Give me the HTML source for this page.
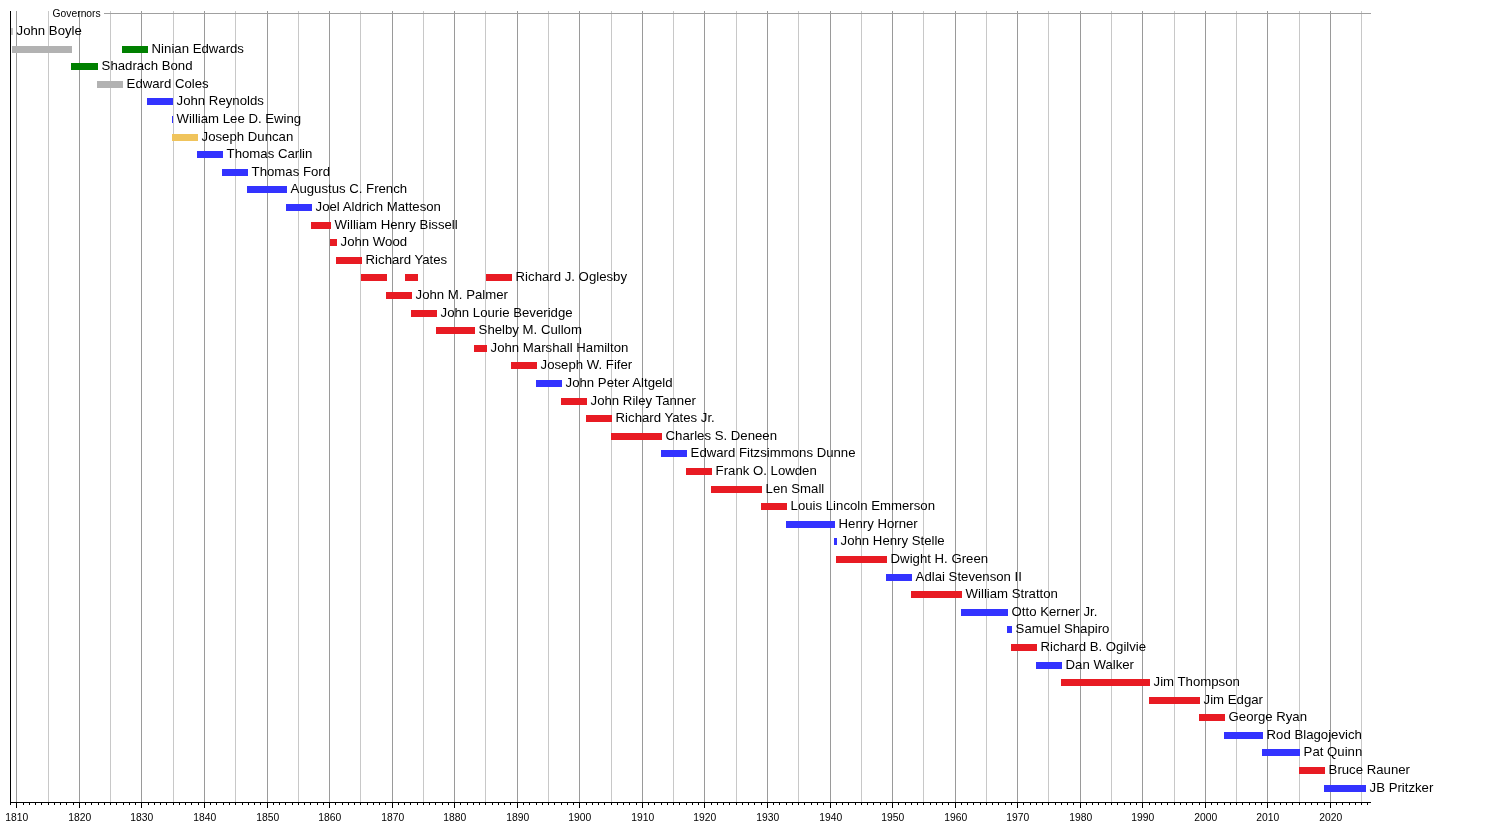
<!DOCTYPE html><html><head><meta charset="utf-8"><title>Governors of Illinois timeline</title>
<style>html,body{margin:0;padding:0;background:#fff;width:1500px;height:822px;overflow:hidden}svg{display:block;will-change:transform}text{font-family:"Liberation Sans",Arial,sans-serif;fill:#000}</style></head><body>
<div id="wrap">
<svg width="1500" height="822" viewBox="0 0 1500 822">
<rect x="0" y="0" width="1500" height="822" fill="#fff"/>
<rect x="16" y="11" width="1" height="791" fill="#9a9a9a"/><rect x="48" y="11" width="1" height="791" fill="#c8c8c8"/><rect x="79" y="11" width="1" height="791" fill="#9a9a9a"/><rect x="110" y="11" width="1" height="791" fill="#c8c8c8"/><rect x="141" y="11" width="1" height="791" fill="#9a9a9a"/><rect x="173" y="11" width="1" height="791" fill="#c8c8c8"/><rect x="204" y="11" width="1" height="791" fill="#9a9a9a"/><rect x="235" y="11" width="1" height="791" fill="#c8c8c8"/><rect x="267" y="11" width="1" height="791" fill="#9a9a9a"/><rect x="298" y="11" width="1" height="791" fill="#c8c8c8"/><rect x="329" y="11" width="1" height="791" fill="#9a9a9a"/><rect x="360" y="11" width="1" height="791" fill="#c8c8c8"/><rect x="392" y="11" width="1" height="791" fill="#9a9a9a"/><rect x="423" y="11" width="1" height="791" fill="#c8c8c8"/><rect x="454" y="11" width="1" height="791" fill="#9a9a9a"/><rect x="485" y="11" width="1" height="791" fill="#c8c8c8"/><rect x="517" y="11" width="1" height="791" fill="#9a9a9a"/><rect x="548" y="11" width="1" height="791" fill="#c8c8c8"/><rect x="579" y="11" width="1" height="791" fill="#9a9a9a"/><rect x="611" y="11" width="1" height="791" fill="#c8c8c8"/><rect x="642" y="11" width="1" height="791" fill="#9a9a9a"/><rect x="673" y="11" width="1" height="791" fill="#c8c8c8"/><rect x="704" y="11" width="1" height="791" fill="#9a9a9a"/><rect x="736" y="11" width="1" height="791" fill="#c8c8c8"/><rect x="767" y="11" width="1" height="791" fill="#9a9a9a"/><rect x="798" y="11" width="1" height="791" fill="#c8c8c8"/><rect x="830" y="11" width="1" height="791" fill="#9a9a9a"/><rect x="861" y="11" width="1" height="791" fill="#c8c8c8"/><rect x="892" y="11" width="1" height="791" fill="#9a9a9a"/><rect x="923" y="11" width="1" height="791" fill="#c8c8c8"/><rect x="955" y="11" width="1" height="791" fill="#9a9a9a"/><rect x="986" y="11" width="1" height="791" fill="#c8c8c8"/><rect x="1017" y="11" width="1" height="791" fill="#9a9a9a"/><rect x="1048" y="11" width="1" height="791" fill="#c8c8c8"/><rect x="1080" y="11" width="1" height="791" fill="#9a9a9a"/><rect x="1111" y="11" width="1" height="791" fill="#c8c8c8"/><rect x="1142" y="11" width="1" height="791" fill="#9a9a9a"/><rect x="1174" y="11" width="1" height="791" fill="#c8c8c8"/><rect x="1205" y="11" width="1" height="791" fill="#9a9a9a"/><rect x="1236" y="11" width="1" height="791" fill="#c8c8c8"/><rect x="1267" y="11" width="1" height="791" fill="#9a9a9a"/><rect x="1299" y="11" width="1" height="791" fill="#c8c8c8"/><rect x="1330" y="11" width="1" height="791" fill="#9a9a9a"/><rect x="1361" y="11" width="1" height="791" fill="#c8c8c8"/>
<rect x="104" y="13" width="1267" height="1" fill="#a0a0a0"/>
<text x="52.6" y="16.9" font-size="10.3">Governors</text>
<rect x="11.00" y="28.00" width="2.00" height="7.00" fill="#C6C6C6"/><rect x="12.00" y="46.00" width="60.00" height="7.00" fill="#B2B2B2"/><rect x="122.00" y="46.00" width="26.00" height="7.00" fill="#008000"/><rect x="71.00" y="63.00" width="27.00" height="7.00" fill="#008000"/><rect x="97.00" y="81.00" width="26.00" height="7.00" fill="#B2B2B2"/><rect x="147.00" y="98.00" width="26.00" height="7.00" fill="#3333FF"/><rect x="172.00" y="116.00" width="1.00" height="7.00" fill="#3333FF"/><rect x="172.00" y="134.00" width="26.00" height="7.00" fill="#F0C45C"/><rect x="197.00" y="151.00" width="26.00" height="7.00" fill="#3333FF"/><rect x="222.00" y="169.00" width="26.00" height="7.00" fill="#3333FF"/><rect x="247.00" y="186.00" width="40.00" height="7.00" fill="#3333FF"/><rect x="286.00" y="204.00" width="26.00" height="7.00" fill="#3333FF"/><rect x="311.00" y="222.00" width="20.00" height="7.00" fill="#E81B23"/><rect x="330.00" y="239.00" width="7.00" height="7.00" fill="#E81B23"/><rect x="336.00" y="257.00" width="26.00" height="7.00" fill="#E81B23"/><rect x="361.00" y="274.00" width="26.00" height="7.00" fill="#E81B23"/><rect x="405.00" y="274.00" width="13.00" height="7.00" fill="#E81B23"/><rect x="486.00" y="274.00" width="26.00" height="7.00" fill="#E81B23"/><rect x="386.00" y="292.00" width="26.00" height="7.00" fill="#E81B23"/><rect x="411.00" y="310.00" width="26.00" height="7.00" fill="#E81B23"/><rect x="436.00" y="327.00" width="39.00" height="7.00" fill="#E81B23"/><rect x="474.00" y="345.00" width="13.00" height="7.00" fill="#E81B23"/><rect x="511.00" y="362.00" width="26.00" height="7.00" fill="#E81B23"/><rect x="536.00" y="380.00" width="26.00" height="7.00" fill="#3333FF"/><rect x="561.00" y="398.00" width="26.00" height="7.00" fill="#E81B23"/><rect x="586.00" y="415.00" width="26.00" height="7.00" fill="#E81B23"/><rect x="611.00" y="433.00" width="51.00" height="7.00" fill="#E81B23"/><rect x="661.00" y="450.00" width="26.00" height="7.00" fill="#3333FF"/><rect x="686.00" y="468.00" width="26.00" height="7.00" fill="#E81B23"/><rect x="711.00" y="486.00" width="51.00" height="7.00" fill="#E81B23"/><rect x="761.00" y="503.00" width="26.00" height="7.00" fill="#E81B23"/><rect x="786.00" y="521.00" width="49.00" height="7.00" fill="#3333FF"/><rect x="834.00" y="538.00" width="3.00" height="7.00" fill="#3333FF"/><rect x="836.00" y="556.00" width="51.00" height="7.00" fill="#E81B23"/><rect x="886.00" y="574.00" width="26.00" height="7.00" fill="#3333FF"/><rect x="911.00" y="591.00" width="51.00" height="7.00" fill="#E81B23"/><rect x="961.00" y="609.00" width="47.00" height="7.00" fill="#3333FF"/><rect x="1007.00" y="626.00" width="5.00" height="7.00" fill="#3333FF"/><rect x="1011.00" y="644.00" width="26.00" height="7.00" fill="#E81B23"/><rect x="1036.00" y="662.00" width="26.00" height="7.00" fill="#3333FF"/><rect x="1061.00" y="679.00" width="89.00" height="7.00" fill="#E81B23"/><rect x="1149.00" y="697.00" width="51.00" height="7.00" fill="#E81B23"/><rect x="1199.00" y="714.00" width="26.00" height="7.00" fill="#E81B23"/><rect x="1224.00" y="732.00" width="39.00" height="7.00" fill="#3333FF"/><rect x="1262.00" y="749.00" width="38.00" height="7.00" fill="#3333FF"/><rect x="1299.00" y="767.00" width="26.00" height="7.00" fill="#E81B23"/><rect x="1324.00" y="785.00" width="42.00" height="7.00" fill="#3333FF"/>
<text x="16.60" y="35.00" font-size="13.2">John Boyle</text><text x="151.60" y="53.00" font-size="13.2">Ninian Edwards</text><text x="101.60" y="70.00" font-size="13.2">Shadrach Bond</text><text x="126.60" y="88.00" font-size="13.2">Edward Coles</text><text x="176.60" y="105.00" font-size="13.2">John Reynolds</text><text x="176.60" y="123.00" font-size="13.2">William Lee D. Ewing</text><text x="201.60" y="141.00" font-size="13.2">Joseph Duncan</text><text x="226.60" y="158.00" font-size="13.2">Thomas Carlin</text><text x="251.60" y="176.00" font-size="13.2">Thomas Ford</text><text x="290.60" y="193.00" font-size="13.2">Augustus C. French</text><text x="315.60" y="211.00" font-size="13.2">Joel Aldrich Matteson</text><text x="334.60" y="229.00" font-size="13.2">William Henry Bissell</text><text x="340.60" y="246.00" font-size="13.2">John Wood</text><text x="365.60" y="264.00" font-size="13.2">Richard Yates</text><text x="515.60" y="281.00" font-size="13.2">Richard J. Oglesby</text><text x="415.60" y="299.00" font-size="13.2">John M. Palmer</text><text x="440.60" y="317.00" font-size="13.2">John Lourie Beveridge</text><text x="478.60" y="334.00" font-size="13.2">Shelby M. Cullom</text><text x="490.60" y="352.00" font-size="13.2">John Marshall Hamilton</text><text x="540.60" y="369.00" font-size="13.2">Joseph W. Fifer</text><text x="565.60" y="387.00" font-size="13.2">John Peter Altgeld</text><text x="590.60" y="405.00" font-size="13.2">John Riley Tanner</text><text x="615.60" y="422.00" font-size="13.2">Richard Yates Jr.</text><text x="665.60" y="440.00" font-size="13.2">Charles S. Deneen</text><text x="690.60" y="457.00" font-size="13.2">Edward Fitzsimmons Dunne</text><text x="715.60" y="475.00" font-size="13.2">Frank O. Lowden</text><text x="765.60" y="493.00" font-size="13.2">Len Small</text><text x="790.60" y="510.00" font-size="13.2">Louis Lincoln Emmerson</text><text x="838.60" y="528.00" font-size="13.2">Henry Horner</text><text x="840.60" y="545.00" font-size="13.2">John Henry Stelle</text><text x="890.60" y="563.00" font-size="13.2">Dwight H. Green</text><text x="915.60" y="581.00" font-size="13.2">Adlai Stevenson II</text><text x="965.60" y="598.00" font-size="13.2">William Stratton</text><text x="1011.60" y="616.00" font-size="13.2">Otto Kerner Jr.</text><text x="1015.60" y="633.00" font-size="13.2">Samuel Shapiro</text><text x="1040.60" y="651.00" font-size="13.2">Richard B. Ogilvie</text><text x="1065.60" y="669.00" font-size="13.2">Dan Walker</text><text x="1153.60" y="686.00" font-size="13.2">Jim Thompson</text><text x="1203.60" y="704.00" font-size="13.2">Jim Edgar</text><text x="1228.60" y="721.00" font-size="13.2">George Ryan</text><text x="1266.60" y="739.00" font-size="13.2">Rod Blagojevich</text><text x="1303.60" y="756.00" font-size="13.2">Pat Quinn</text><text x="1328.60" y="774.00" font-size="13.2">Bruce Rauner</text><text x="1369.60" y="792.00" font-size="13.2">JB Pritzker</text>
<rect x="10" y="11" width="1" height="792" fill="#000"/>
<rect x="10" y="802" width="1361" height="1" fill="#000"/>
<rect x="10" y="802" width="1" height="3" fill="#000"/><rect x="16" y="802" width="1" height="6" fill="#000"/><rect x="23" y="802" width="1" height="3" fill="#000"/><rect x="29" y="802" width="1" height="3" fill="#000"/><rect x="35" y="802" width="1" height="3" fill="#000"/><rect x="41" y="802" width="1" height="3" fill="#000"/><rect x="48" y="802" width="1" height="3" fill="#000"/><rect x="54" y="802" width="1" height="3" fill="#000"/><rect x="60" y="802" width="1" height="3" fill="#000"/><rect x="66" y="802" width="1" height="3" fill="#000"/><rect x="73" y="802" width="1" height="3" fill="#000"/><rect x="79" y="802" width="1" height="6" fill="#000"/><rect x="85" y="802" width="1" height="3" fill="#000"/><rect x="91" y="802" width="1" height="3" fill="#000"/><rect x="98" y="802" width="1" height="3" fill="#000"/><rect x="104" y="802" width="1" height="3" fill="#000"/><rect x="110" y="802" width="1" height="3" fill="#000"/><rect x="116" y="802" width="1" height="3" fill="#000"/><rect x="123" y="802" width="1" height="3" fill="#000"/><rect x="129" y="802" width="1" height="3" fill="#000"/><rect x="135" y="802" width="1" height="3" fill="#000"/><rect x="141" y="802" width="1" height="6" fill="#000"/><rect x="148" y="802" width="1" height="3" fill="#000"/><rect x="154" y="802" width="1" height="3" fill="#000"/><rect x="160" y="802" width="1" height="3" fill="#000"/><rect x="166" y="802" width="1" height="3" fill="#000"/><rect x="173" y="802" width="1" height="3" fill="#000"/><rect x="179" y="802" width="1" height="3" fill="#000"/><rect x="185" y="802" width="1" height="3" fill="#000"/><rect x="191" y="802" width="1" height="3" fill="#000"/><rect x="198" y="802" width="1" height="3" fill="#000"/><rect x="204" y="802" width="1" height="6" fill="#000"/><rect x="210" y="802" width="1" height="3" fill="#000"/><rect x="216" y="802" width="1" height="3" fill="#000"/><rect x="223" y="802" width="1" height="3" fill="#000"/><rect x="229" y="802" width="1" height="3" fill="#000"/><rect x="235" y="802" width="1" height="3" fill="#000"/><rect x="242" y="802" width="1" height="3" fill="#000"/><rect x="248" y="802" width="1" height="3" fill="#000"/><rect x="254" y="802" width="1" height="3" fill="#000"/><rect x="260" y="802" width="1" height="3" fill="#000"/><rect x="267" y="802" width="1" height="6" fill="#000"/><rect x="273" y="802" width="1" height="3" fill="#000"/><rect x="279" y="802" width="1" height="3" fill="#000"/><rect x="285" y="802" width="1" height="3" fill="#000"/><rect x="292" y="802" width="1" height="3" fill="#000"/><rect x="298" y="802" width="1" height="3" fill="#000"/><rect x="304" y="802" width="1" height="3" fill="#000"/><rect x="310" y="802" width="1" height="3" fill="#000"/><rect x="317" y="802" width="1" height="3" fill="#000"/><rect x="323" y="802" width="1" height="3" fill="#000"/><rect x="329" y="802" width="1" height="6" fill="#000"/><rect x="335" y="802" width="1" height="3" fill="#000"/><rect x="342" y="802" width="1" height="3" fill="#000"/><rect x="348" y="802" width="1" height="3" fill="#000"/><rect x="354" y="802" width="1" height="3" fill="#000"/><rect x="360" y="802" width="1" height="3" fill="#000"/><rect x="367" y="802" width="1" height="3" fill="#000"/><rect x="373" y="802" width="1" height="3" fill="#000"/><rect x="379" y="802" width="1" height="3" fill="#000"/><rect x="385" y="802" width="1" height="3" fill="#000"/><rect x="392" y="802" width="1" height="6" fill="#000"/><rect x="398" y="802" width="1" height="3" fill="#000"/><rect x="404" y="802" width="1" height="3" fill="#000"/><rect x="410" y="802" width="1" height="3" fill="#000"/><rect x="417" y="802" width="1" height="3" fill="#000"/><rect x="423" y="802" width="1" height="3" fill="#000"/><rect x="429" y="802" width="1" height="3" fill="#000"/><rect x="435" y="802" width="1" height="3" fill="#000"/><rect x="442" y="802" width="1" height="3" fill="#000"/><rect x="448" y="802" width="1" height="3" fill="#000"/><rect x="454" y="802" width="1" height="6" fill="#000"/><rect x="460" y="802" width="1" height="3" fill="#000"/><rect x="467" y="802" width="1" height="3" fill="#000"/><rect x="473" y="802" width="1" height="3" fill="#000"/><rect x="479" y="802" width="1" height="3" fill="#000"/><rect x="485" y="802" width="1" height="3" fill="#000"/><rect x="492" y="802" width="1" height="3" fill="#000"/><rect x="498" y="802" width="1" height="3" fill="#000"/><rect x="504" y="802" width="1" height="3" fill="#000"/><rect x="510" y="802" width="1" height="3" fill="#000"/><rect x="517" y="802" width="1" height="6" fill="#000"/><rect x="523" y="802" width="1" height="3" fill="#000"/><rect x="529" y="802" width="1" height="3" fill="#000"/><rect x="536" y="802" width="1" height="3" fill="#000"/><rect x="542" y="802" width="1" height="3" fill="#000"/><rect x="548" y="802" width="1" height="3" fill="#000"/><rect x="554" y="802" width="1" height="3" fill="#000"/><rect x="561" y="802" width="1" height="3" fill="#000"/><rect x="567" y="802" width="1" height="3" fill="#000"/><rect x="573" y="802" width="1" height="3" fill="#000"/><rect x="579" y="802" width="1" height="6" fill="#000"/><rect x="586" y="802" width="1" height="3" fill="#000"/><rect x="592" y="802" width="1" height="3" fill="#000"/><rect x="598" y="802" width="1" height="3" fill="#000"/><rect x="604" y="802" width="1" height="3" fill="#000"/><rect x="611" y="802" width="1" height="3" fill="#000"/><rect x="617" y="802" width="1" height="3" fill="#000"/><rect x="623" y="802" width="1" height="3" fill="#000"/><rect x="629" y="802" width="1" height="3" fill="#000"/><rect x="636" y="802" width="1" height="3" fill="#000"/><rect x="642" y="802" width="1" height="6" fill="#000"/><rect x="648" y="802" width="1" height="3" fill="#000"/><rect x="654" y="802" width="1" height="3" fill="#000"/><rect x="661" y="802" width="1" height="3" fill="#000"/><rect x="667" y="802" width="1" height="3" fill="#000"/><rect x="673" y="802" width="1" height="3" fill="#000"/><rect x="679" y="802" width="1" height="3" fill="#000"/><rect x="686" y="802" width="1" height="3" fill="#000"/><rect x="692" y="802" width="1" height="3" fill="#000"/><rect x="698" y="802" width="1" height="3" fill="#000"/><rect x="704" y="802" width="1" height="6" fill="#000"/><rect x="711" y="802" width="1" height="3" fill="#000"/><rect x="717" y="802" width="1" height="3" fill="#000"/><rect x="723" y="802" width="1" height="3" fill="#000"/><rect x="729" y="802" width="1" height="3" fill="#000"/><rect x="736" y="802" width="1" height="3" fill="#000"/><rect x="742" y="802" width="1" height="3" fill="#000"/><rect x="748" y="802" width="1" height="3" fill="#000"/><rect x="754" y="802" width="1" height="3" fill="#000"/><rect x="761" y="802" width="1" height="3" fill="#000"/><rect x="767" y="802" width="1" height="6" fill="#000"/><rect x="773" y="802" width="1" height="3" fill="#000"/><rect x="779" y="802" width="1" height="3" fill="#000"/><rect x="786" y="802" width="1" height="3" fill="#000"/><rect x="792" y="802" width="1" height="3" fill="#000"/><rect x="798" y="802" width="1" height="3" fill="#000"/><rect x="804" y="802" width="1" height="3" fill="#000"/><rect x="811" y="802" width="1" height="3" fill="#000"/><rect x="817" y="802" width="1" height="3" fill="#000"/><rect x="823" y="802" width="1" height="3" fill="#000"/><rect x="830" y="802" width="1" height="6" fill="#000"/><rect x="836" y="802" width="1" height="3" fill="#000"/><rect x="842" y="802" width="1" height="3" fill="#000"/><rect x="848" y="802" width="1" height="3" fill="#000"/><rect x="855" y="802" width="1" height="3" fill="#000"/><rect x="861" y="802" width="1" height="3" fill="#000"/><rect x="867" y="802" width="1" height="3" fill="#000"/><rect x="873" y="802" width="1" height="3" fill="#000"/><rect x="880" y="802" width="1" height="3" fill="#000"/><rect x="886" y="802" width="1" height="3" fill="#000"/><rect x="892" y="802" width="1" height="6" fill="#000"/><rect x="898" y="802" width="1" height="3" fill="#000"/><rect x="905" y="802" width="1" height="3" fill="#000"/><rect x="911" y="802" width="1" height="3" fill="#000"/><rect x="917" y="802" width="1" height="3" fill="#000"/><rect x="923" y="802" width="1" height="3" fill="#000"/><rect x="930" y="802" width="1" height="3" fill="#000"/><rect x="936" y="802" width="1" height="3" fill="#000"/><rect x="942" y="802" width="1" height="3" fill="#000"/><rect x="948" y="802" width="1" height="3" fill="#000"/><rect x="955" y="802" width="1" height="6" fill="#000"/><rect x="961" y="802" width="1" height="3" fill="#000"/><rect x="967" y="802" width="1" height="3" fill="#000"/><rect x="973" y="802" width="1" height="3" fill="#000"/><rect x="980" y="802" width="1" height="3" fill="#000"/><rect x="986" y="802" width="1" height="3" fill="#000"/><rect x="992" y="802" width="1" height="3" fill="#000"/><rect x="998" y="802" width="1" height="3" fill="#000"/><rect x="1005" y="802" width="1" height="3" fill="#000"/><rect x="1011" y="802" width="1" height="3" fill="#000"/><rect x="1017" y="802" width="1" height="6" fill="#000"/><rect x="1023" y="802" width="1" height="3" fill="#000"/><rect x="1030" y="802" width="1" height="3" fill="#000"/><rect x="1036" y="802" width="1" height="3" fill="#000"/><rect x="1042" y="802" width="1" height="3" fill="#000"/><rect x="1048" y="802" width="1" height="3" fill="#000"/><rect x="1055" y="802" width="1" height="3" fill="#000"/><rect x="1061" y="802" width="1" height="3" fill="#000"/><rect x="1067" y="802" width="1" height="3" fill="#000"/><rect x="1073" y="802" width="1" height="3" fill="#000"/><rect x="1080" y="802" width="1" height="6" fill="#000"/><rect x="1086" y="802" width="1" height="3" fill="#000"/><rect x="1092" y="802" width="1" height="3" fill="#000"/><rect x="1098" y="802" width="1" height="3" fill="#000"/><rect x="1105" y="802" width="1" height="3" fill="#000"/><rect x="1111" y="802" width="1" height="3" fill="#000"/><rect x="1117" y="802" width="1" height="3" fill="#000"/><rect x="1124" y="802" width="1" height="3" fill="#000"/><rect x="1130" y="802" width="1" height="3" fill="#000"/><rect x="1136" y="802" width="1" height="3" fill="#000"/><rect x="1142" y="802" width="1" height="6" fill="#000"/><rect x="1149" y="802" width="1" height="3" fill="#000"/><rect x="1155" y="802" width="1" height="3" fill="#000"/><rect x="1161" y="802" width="1" height="3" fill="#000"/><rect x="1167" y="802" width="1" height="3" fill="#000"/><rect x="1174" y="802" width="1" height="3" fill="#000"/><rect x="1180" y="802" width="1" height="3" fill="#000"/><rect x="1186" y="802" width="1" height="3" fill="#000"/><rect x="1192" y="802" width="1" height="3" fill="#000"/><rect x="1199" y="802" width="1" height="3" fill="#000"/><rect x="1205" y="802" width="1" height="6" fill="#000"/><rect x="1211" y="802" width="1" height="3" fill="#000"/><rect x="1217" y="802" width="1" height="3" fill="#000"/><rect x="1224" y="802" width="1" height="3" fill="#000"/><rect x="1230" y="802" width="1" height="3" fill="#000"/><rect x="1236" y="802" width="1" height="3" fill="#000"/><rect x="1242" y="802" width="1" height="3" fill="#000"/><rect x="1249" y="802" width="1" height="3" fill="#000"/><rect x="1255" y="802" width="1" height="3" fill="#000"/><rect x="1261" y="802" width="1" height="3" fill="#000"/><rect x="1267" y="802" width="1" height="6" fill="#000"/><rect x="1274" y="802" width="1" height="3" fill="#000"/><rect x="1280" y="802" width="1" height="3" fill="#000"/><rect x="1286" y="802" width="1" height="3" fill="#000"/><rect x="1292" y="802" width="1" height="3" fill="#000"/><rect x="1299" y="802" width="1" height="3" fill="#000"/><rect x="1305" y="802" width="1" height="3" fill="#000"/><rect x="1311" y="802" width="1" height="3" fill="#000"/><rect x="1317" y="802" width="1" height="3" fill="#000"/><rect x="1324" y="802" width="1" height="3" fill="#000"/><rect x="1330" y="802" width="1" height="6" fill="#000"/><rect x="1336" y="802" width="1" height="3" fill="#000"/><rect x="1342" y="802" width="1" height="3" fill="#000"/><rect x="1349" y="802" width="1" height="3" fill="#000"/><rect x="1355" y="802" width="1" height="3" fill="#000"/><rect x="1361" y="802" width="1" height="3" fill="#000"/><rect x="1367" y="802" width="1" height="3" fill="#000"/>
<text x="16.80" y="820.6" font-size="10.3" text-anchor="middle">1810</text><text x="79.80" y="820.6" font-size="10.3" text-anchor="middle">1820</text><text x="141.80" y="820.6" font-size="10.3" text-anchor="middle">1830</text><text x="204.80" y="820.6" font-size="10.3" text-anchor="middle">1840</text><text x="267.80" y="820.6" font-size="10.3" text-anchor="middle">1850</text><text x="329.80" y="820.6" font-size="10.3" text-anchor="middle">1860</text><text x="392.80" y="820.6" font-size="10.3" text-anchor="middle">1870</text><text x="454.80" y="820.6" font-size="10.3" text-anchor="middle">1880</text><text x="517.80" y="820.6" font-size="10.3" text-anchor="middle">1890</text><text x="579.80" y="820.6" font-size="10.3" text-anchor="middle">1900</text><text x="642.80" y="820.6" font-size="10.3" text-anchor="middle">1910</text><text x="704.80" y="820.6" font-size="10.3" text-anchor="middle">1920</text><text x="767.80" y="820.6" font-size="10.3" text-anchor="middle">1930</text><text x="830.80" y="820.6" font-size="10.3" text-anchor="middle">1940</text><text x="892.80" y="820.6" font-size="10.3" text-anchor="middle">1950</text><text x="955.80" y="820.6" font-size="10.3" text-anchor="middle">1960</text><text x="1017.80" y="820.6" font-size="10.3" text-anchor="middle">1970</text><text x="1080.80" y="820.6" font-size="10.3" text-anchor="middle">1980</text><text x="1142.80" y="820.6" font-size="10.3" text-anchor="middle">1990</text><text x="1205.80" y="820.6" font-size="10.3" text-anchor="middle">2000</text><text x="1267.80" y="820.6" font-size="10.3" text-anchor="middle">2010</text><text x="1330.80" y="820.6" font-size="10.3" text-anchor="middle">2020</text>
</svg></div></body></html>
